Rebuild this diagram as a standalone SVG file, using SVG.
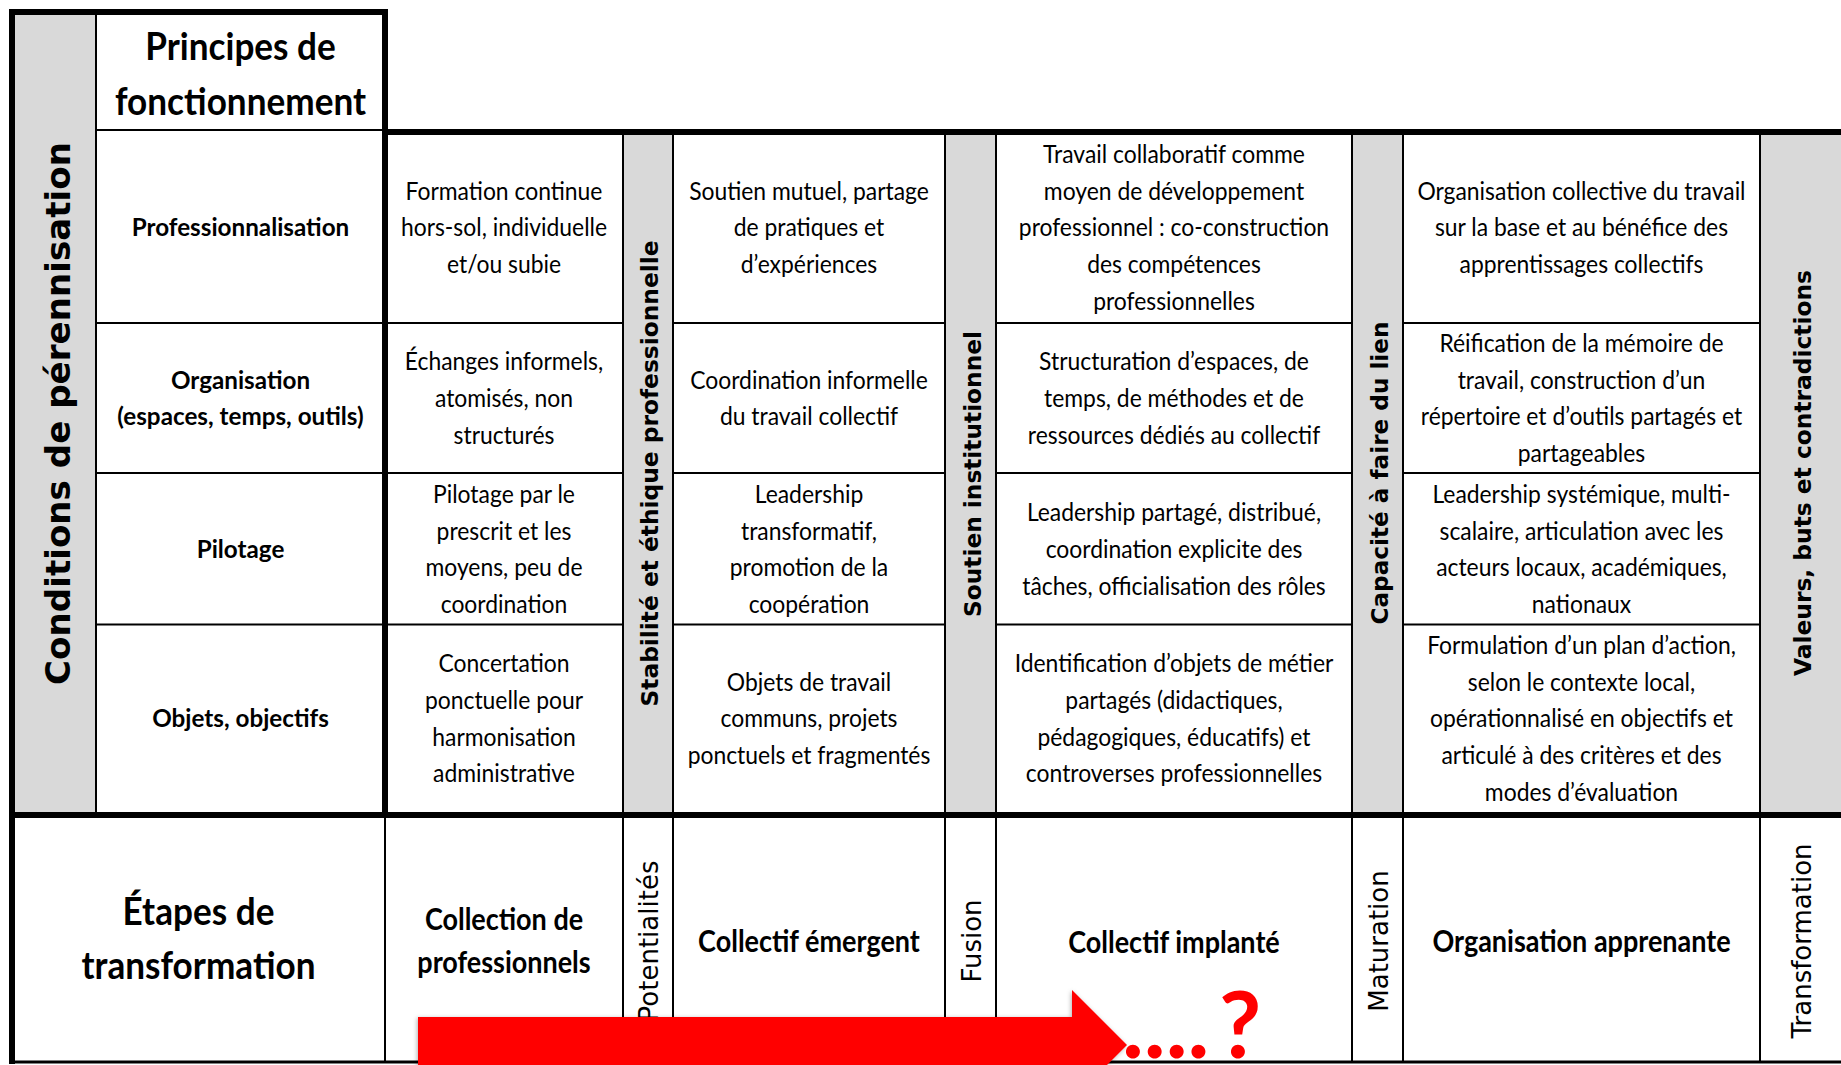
<svg xmlns="http://www.w3.org/2000/svg" width="1841" height="1065" viewBox="0 0 1841 1065">
<defs>
<style>
.t{font-family:Lato,"Liberation Sans",sans-serif;font-size:25px;text-anchor:middle;fill:#000}
.b{font-weight:700}
.h{font-family:Lato,"Liberation Sans",sans-serif;font-size:38px;font-weight:700;text-anchor:middle;fill:#000}
.s{font-family:Lato,"Liberation Sans",sans-serif;font-size:30px;font-weight:700;text-anchor:middle;fill:#000}
.v{font-family:"DejaVu Sans",Verdana,sans-serif;font-weight:700;font-size:23.5px;text-anchor:middle;fill:#000}
.vr{font-family:"DejaVu Sans",Verdana,sans-serif;font-size:26px;text-anchor:middle;fill:#000}
.ln{stroke:#000;stroke-width:2;fill:none}
.tk{stroke:#000;stroke-width:6;fill:none}
.g{fill:#D9D9D9}
</style>
<filter id="sh" x="-5%" y="-20%" width="110%" height="140%">
<feDropShadow dx="-1" dy="1" stdDeviation="2" flood-color="#000" flood-opacity="0.3"/>
</filter>
</defs>
<rect width="1841" height="1065" fill="#fff"/>

<g id="gray-bands">
<rect class="g" x="12" y="12" width="84" height="803"/>
<rect class="g" x="623" y="132" width="50" height="683"/>
<rect class="g" x="945" y="132" width="51" height="683"/>
<rect class="g" x="1352" y="132" width="51" height="683"/>
<rect class="g" x="1760" y="132" width="81" height="683"/>
</g>

<g id="grid">
<path class="ln" d="M96 12V815M96 130H385"/>
<path class="ln" d="M96 323H385M385 323H623M673 323H945M996 323H1352M1403 323H1760"/>
<path class="ln" d="M96 473H385M385 473H623M673 473H945M996 473H1352M1403 473H1760"/>
<path class="ln" d="M96 624.5H385M385 624.5H623M673 624.5H945M996 624.5H1352M1403 624.5H1760"/>
<path class="ln" d="M623 132V1062M673 132V1062M945 132V1062M996 132V1062M1352 132V1062M1403 132V1062M1760 132V1062"/>
<path class="ln" d="M385 815V1062"/>
<path class="ln" style="stroke-width:3" d="M12 1062H1841"/>
<path class="tk" d="M12 9V1064M9 12H388M385 9V818M382 132H1841M9 815H1841"/>
</g>

<g id="node-conditions">
<text class="v" style="font-size:34px" transform="translate(70,413.5) rotate(-90)" textLength="543" lengthAdjust="spacingAndGlyphs">Conditions de pérennisation</text>
</g>
<g id="node-principes">
<text class="h" transform="matrix(0.925 0 0 1 18.04 0)"><tspan x="240.5" y="60">Principes de</tspan><tspan x="240.5" y="115">fonctionnement</tspan></text>
</g>
<g id="node-stabilite">
<text class="v" transform="translate(658,473.5) rotate(-90)" textLength="466" lengthAdjust="spacingAndGlyphs">Stabilité et éthique professionnelle</text>
</g>
<g id="node-soutien">
<text class="v" transform="translate(980.5,474) rotate(-90)" textLength="286" lengthAdjust="spacingAndGlyphs">Soutien institutionnel</text>
</g>
<g id="node-capacite">
<text class="v" transform="translate(1387.5,473) rotate(-90)" textLength="303" lengthAdjust="spacingAndGlyphs">Capacité à faire du lien</text>
</g>
<g id="node-valeurs">
<text class="v" transform="translate(1810.5,473) rotate(-90)" textLength="406" lengthAdjust="spacingAndGlyphs">Valeurs, buts et contradictions</text>
</g>

<g id="node-label-professionnalisation"><text class="t b" transform="matrix(0.97 0 0 1 7.215 0)" x="240.5" y="236.5">Professionnalisation</text></g>
<g id="node-label-organisation"><text class="t b" transform="matrix(0.97 0 0 1 7.215 0)"><tspan x="240.5" y="388.65">Organisation</tspan><tspan x="240.5" y="425.35">(espaces, temps, outils)</tspan></text></g>
<g id="node-label-pilotage"><text class="t b" transform="matrix(0.97 0 0 1 7.215 0)" x="240.5" y="558">Pilotage</text></g>
<g id="node-label-objets"><text class="t b" transform="matrix(0.97 0 0 1 7.215 0)" x="240.5" y="727.3">Objets, objectifs</text></g>

<g id="node-a1"><text class="t" transform="matrix(0.915 0 0 1 42.84 0)"><tspan x="504" y="199.8">Formation continue</tspan><tspan x="504" y="236.5">hors-sol, individuelle</tspan><tspan x="504" y="273.2">et/ou subie</tspan></text></g>
<g id="node-a2"><text class="t" transform="matrix(0.915 0 0 1 42.84 0)"><tspan x="504" y="370.3">Échanges informels,</tspan><tspan x="504" y="407">atomisés, non</tspan><tspan x="504" y="443.7">structurés</tspan></text></g>
<g id="node-a3"><text class="t" transform="matrix(0.915 0 0 1 42.84 0)"><tspan x="504" y="502.95">Pilotage par le</tspan><tspan x="504" y="539.65">prescrit et les</tspan><tspan x="504" y="576.35">moyens, peu de</tspan><tspan x="504" y="613.05">coordination</tspan></text></g>
<g id="node-a4"><text class="t" transform="matrix(0.915 0 0 1 42.84 0)"><tspan x="504" y="672.25">Concertation</tspan><tspan x="504" y="708.95">ponctuelle pour</tspan><tspan x="504" y="745.65">harmonisation</tspan><tspan x="504" y="782.35">administrative</tspan></text></g>

<g id="node-b1"><text class="t" transform="matrix(0.915 0 0 1 68.77 0)"><tspan x="809" y="199.8">Soutien mutuel, partage</tspan><tspan x="809" y="236.5">de pratiques et</tspan><tspan x="809" y="273.2">d’expériences</tspan></text></g>
<g id="node-b2"><text class="t" transform="matrix(0.915 0 0 1 68.77 0)"><tspan x="809" y="388.65">Coordination informelle</tspan><tspan x="809" y="425.35">du travail collectif</tspan></text></g>
<g id="node-b3"><text class="t" transform="matrix(0.915 0 0 1 68.77 0)"><tspan x="809" y="502.95">Leadership</tspan><tspan x="809" y="539.65">transformatif,</tspan><tspan x="809" y="576.35">promotion de la</tspan><tspan x="809" y="613.05">coopération</tspan></text></g>
<g id="node-b4"><text class="t" transform="matrix(0.915 0 0 1 68.77 0)"><tspan x="809" y="690.6">Objets de travail</tspan><tspan x="809" y="727.3">communs, projets</tspan><tspan x="809" y="764">ponctuels et fragmentés</tspan></text></g>

<g id="node-c1"><text class="t" transform="matrix(0.915 0 0 1 99.79 0)"><tspan x="1174" y="163.1">Travail collaboratif comme</tspan><tspan x="1174" y="199.8">moyen de développement</tspan><tspan x="1174" y="236.5">professionnel : co-construction</tspan><tspan x="1174" y="273.2">des compétences</tspan><tspan x="1174" y="309.9">professionnelles</tspan></text></g>
<g id="node-c2"><text class="t" transform="matrix(0.915 0 0 1 99.79 0)"><tspan x="1174" y="370.3">Structuration d’espaces, de</tspan><tspan x="1174" y="407">temps, de méthodes et de</tspan><tspan x="1174" y="443.7">ressources dédiés au collectif</tspan></text></g>
<g id="node-c3"><text class="t" transform="matrix(0.915 0 0 1 99.79 0)"><tspan x="1174" y="521.3">Leadership partagé, distribué,</tspan><tspan x="1174" y="558">coordination explicite des</tspan><tspan x="1174" y="594.7">tâches, officialisation des rôles</tspan></text></g>
<g id="node-c4"><text class="t" transform="matrix(0.915 0 0 1 99.79 0)"><tspan x="1174" y="672.25">Identification d’objets de métier</tspan><tspan x="1174" y="708.95">partagés (didactiques,</tspan><tspan x="1174" y="745.65">pédagogiques, éducatifs) et</tspan><tspan x="1174" y="782.35">controverses professionnelles</tspan></text></g>

<g id="node-d1"><text class="t" transform="matrix(0.915 0 0 1 134.43 0)"><tspan x="1581.5" y="199.8">Organisation collective du travail</tspan><tspan x="1581.5" y="236.5">sur la base et au bénéfice des</tspan><tspan x="1581.5" y="273.2">apprentissages collectifs</tspan></text></g>
<g id="node-d2"><text class="t" transform="matrix(0.915 0 0 1 134.43 0)"><tspan x="1581.5" y="351.95">Réification de la mémoire de</tspan><tspan x="1581.5" y="388.65">travail, construction d’un</tspan><tspan x="1581.5" y="425.35">répertoire et d’outils partagés et</tspan><tspan x="1581.5" y="462.05">partageables</tspan></text></g>
<g id="node-d3"><text class="t" transform="matrix(0.915 0 0 1 134.43 0)"><tspan x="1581.5" y="502.95">Leadership systémique, multi-</tspan><tspan x="1581.5" y="539.65">scalaire, articulation avec les</tspan><tspan x="1581.5" y="576.35">acteurs locaux, académiques,</tspan><tspan x="1581.5" y="613.05">nationaux</tspan></text></g>
<g id="node-d4"><text class="t" transform="matrix(0.915 0 0 1 134.43 0)"><tspan x="1581.5" y="653.9">Formulation d’un plan d’action,</tspan><tspan x="1581.5" y="690.6">selon le contexte local,</tspan><tspan x="1581.5" y="727.3">opérationnalisé en objectifs et</tspan><tspan x="1581.5" y="764">articulé à des critères et des</tspan><tspan x="1581.5" y="800.7">modes d’évaluation</tspan></text></g>

<g id="node-etapes"><text class="h" transform="matrix(0.925 0 0 1 14.89 0)"><tspan x="198.5" y="925">Étapes de</tspan><tspan x="198.5" y="979">transformation</tspan></text></g>
<g id="node-collection"><text class="s" transform="matrix(0.9 0 0 1 50.4 0)"><tspan x="504" y="930">Collection de</tspan><tspan x="504" y="973">professionnels</tspan></text></g>
<g id="node-potentialites"><text class="vr" transform="translate(658,941) rotate(-90)">Potentialités</text></g>
<g id="node-emergent"><text class="s" transform="matrix(0.9 0 0 1 80.9 0)" x="809" y="952">Collectif émergent</text></g>
<g id="node-fusion"><text class="vr" transform="translate(980.5,941) rotate(-90)">Fusion</text></g>
<g id="node-implante"><text class="s" transform="matrix(0.9 0 0 1 117.4 0)" x="1174" y="953">Collectif implanté</text></g>
<g id="node-maturation"><text class="vr" transform="translate(1387.5,941) rotate(-90)">Maturation</text></g>
<g id="node-apprenante"><text class="s" transform="matrix(0.9 0 0 1 158.15 0)" x="1581.5" y="952">Organisation apprenante</text></g>
<g id="node-transformation"><text class="vr" transform="translate(1810.5,941) rotate(-90)">Transformation</text></g>

<g id="connectors">
<polygon points="418,1017 1072,1017 1072,990 1127,1045 1072,1100 1072,1073 418,1073" fill="#FF0000" filter="url(#sh)"/>
<text y="1058" style="font-family:Lato,'Liberation Sans',sans-serif;font-weight:700;font-size:92px;fill:#FF0000"><tspan x="1122">....</tspan><tspan x="1219">?</tspan></text>
</g>
</svg>
